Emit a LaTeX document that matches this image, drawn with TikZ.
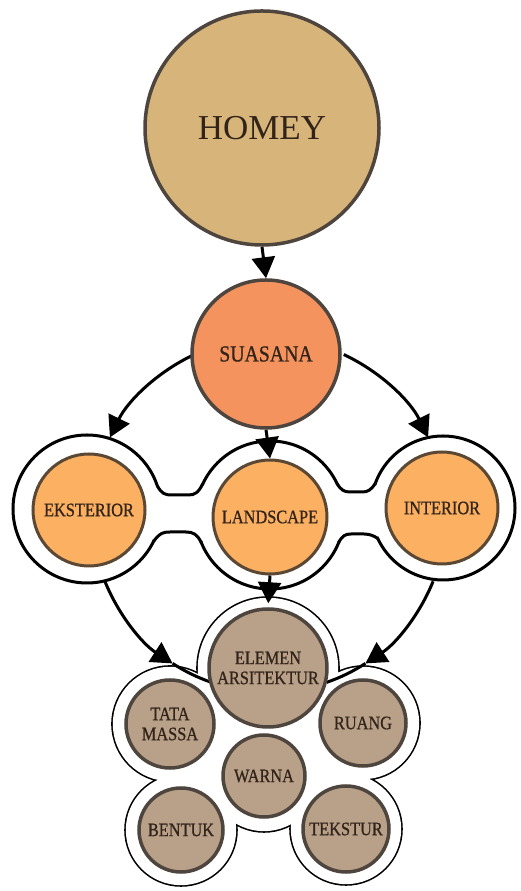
\documentclass[tikz,border=0pt]{standalone}
\usepackage{fontspec}
\setmainfont{Liberation Serif}
\newfontfamily\lblfont[FakeStretch=0.86,FakeBold=0.8]{Liberation Serif}
\usetikzlibrary{arrows.meta}
\definecolor{homeyfill}{HTML}{D7B57A}
\definecolor{suafill}{HTML}{F5935F}
\definecolor{midfill}{HTML}{FBB062}
\definecolor{elfill}{HTML}{B9A189}
\definecolor{rim}{HTML}{4E463E}
\definecolor{brim}{HTML}{5A4734}
\definecolor{txt}{HTML}{33241A}
\begin{document}
\begin{tikzpicture}[x=1pt,y=1pt,
  bub/.style={circle, inner sep=0pt, text=txt, align=center, draw=rim, line width=3.5pt},
  midbub/.style={bub, fill=midfill, draw=brim, line width=3pt, font=\lblfont\fontsize{19}{20}\selectfont},
  elbub/.style={bub, fill=elfill, font=\lblfont\fontsize{19}{20}\selectfont},
  ringnode/.style={circle, inner sep=0pt, draw=black, fill=white, line width=3pt},
  tip/.style={-{Triangle[length=21pt,width=23pt]}, line width=3pt, draw=black},
  neck/.style={draw=black, line width=3pt},
]
\useasboundingbox (0,0) rectangle (520,891);

% outline of the lower cluster
\fill[black] (268,223) circle[radius=71.8] (170,167) circle[radius=58.8]
  (363,168) circle[radius=57.8] (264,115) circle[radius=56.8]
  (181,61) circle[radius=56.8] (346,62) circle[radius=56.8];
\fill[white] (268,223) circle[radius=70.2] (170,167) circle[radius=57.2]
  (363,168) circle[radius=56.2] (264,115) circle[radius=55.2]
  (181,61) circle[radius=55.2] (346,62) circle[radius=55.2];
\fill[white] (268,223) -- (170,167) -- (181,61) -- (264,115) -- (346,62) -- (363,168) -- cycle;

% rings
\node[ringnode, minimum size=148pt] (eksR) at (87,382) {};
\node[ringnode, minimum size=148pt] (landR) at (270,376) {};
\node[ringnode, minimum size=144pt] (intR) at (443,383) {};

% necks between rings
\fill[white] (157.4,404.9) .. controls (162,397) and (165,396) .. (172,396) -- (188,396)
  .. controls (195,396) and (198,398) .. (202.9,407.3) -- (215,376) -- (201.4,348.3)
  .. controls (197,357) and (193,359) .. (186,359) -- (170,359)
  .. controls (163,359) and (160,358) .. (153.5,349.6) -- (140,382) -- cycle;
\draw[neck] (157.4,404.9) .. controls (162,397) and (165,396) .. (172,396) -- (188,396)
  .. controls (195,396) and (198,398) .. (202.9,407.3);
\draw[neck] (153.5,349.6) .. controls (160,358) and (163,359) .. (170,359) -- (186,359)
  .. controls (193,359) and (197,357) .. (201.4,348.3);
\fill[white] (337.1,407.3) .. controls (341,401) and (344,399) .. (350,399) -- (362,399)
  .. controls (368,399) and (371,401) .. (375.3,407.6) -- (390,383) -- (377.7,352.6)
  .. controls (374,355) and (370,357) .. (364,357) -- (351,357)
  .. controls (345,357) and (342,355) .. (338.6,348.3) -- (325,376) -- cycle;
\draw[neck] (337.1,407.3) .. controls (341,401) and (344,399) .. (350,399) -- (362,399)
  .. controls (368,399) and (371,401) .. (375.3,407.6);
\draw[neck] (338.6,348.3) .. controls (342,355) and (345,357) .. (351,357) -- (364,357)
  .. controls (370,357) and (374,355) .. (377.7,352.6);

% big circular connectors
\coordinate (bc) at (269,376);
\path (bc) ++(115:177) coordinate (ul);
\path (bc) ++(65:177) coordinate (ur);
\path (bc) ++(202:177) coordinate (ll);
\path (bc) ++(237:177) coordinate (llm);
\path (bc) ++(-22:177) coordinate (lr);
\path (bc) ++(-57:177) coordinate (lrm);
\draw[tip] (ul) arc[start angle=115, end angle=154, radius=177];
\draw[tip] (ur) arc[start angle=65, end angle=26, radius=177];
\draw[tip] (ll) arc[start angle=202, end angle=237, radius=177];
\draw[line width=3pt] (llm) arc[start angle=237, end angle=251, radius=177];
\draw[tip] (lr) arc[start angle=-22, end angle=-57, radius=177];
\draw[line width=3pt] (lrm) arc[start angle=-57, end angle=-71, radius=177];

% nodes
\node[bub, fill=homeyfill, minimum size=234pt, font=\fontsize{35}{40}\selectfont] (homey) at (262,763) {HOMEY};
\node[bub, fill=suafill, minimum size=148pt, font=\lblfont\fontsize{23}{25}\selectfont] (sua) at (266,537) {SUASANA};
\node[midbub, minimum size=112pt] (eks) at (89,381) {EKSTERIOR};
\node[midbub, minimum size=114pt] (land) at (270,374) {LANDSCAPE};
\node[midbub, minimum size=112pt] (int) at (442,383) {INTERIOR};
\node[elbub, minimum size=118pt] (elem) at (268,223) {ELEMEN\\ARSITEKTUR};
\node[elbub, minimum size=88pt] (tata) at (170,167) {TATA\\MASSA};
\node[elbub, minimum size=86pt] (ruang) at (363,168) {RUANG};
\node[elbub, minimum size=82pt] (warna) at (264,115) {WARNA};
\node[elbub, minimum size=84pt] (bentuk) at (181,61) {BENTUK};
\node[elbub, minimum size=86pt] (tekstur) at (346,62) {TEKSTUR};

% straight arrows
\draw[tip] (homey.south) -- (sua.north);
\draw[tip] (sua.south) -- (land.north);
\draw[tip, shorten >=4pt] (land.south) -- (elem.north);
\end{tikzpicture}
\end{document}
